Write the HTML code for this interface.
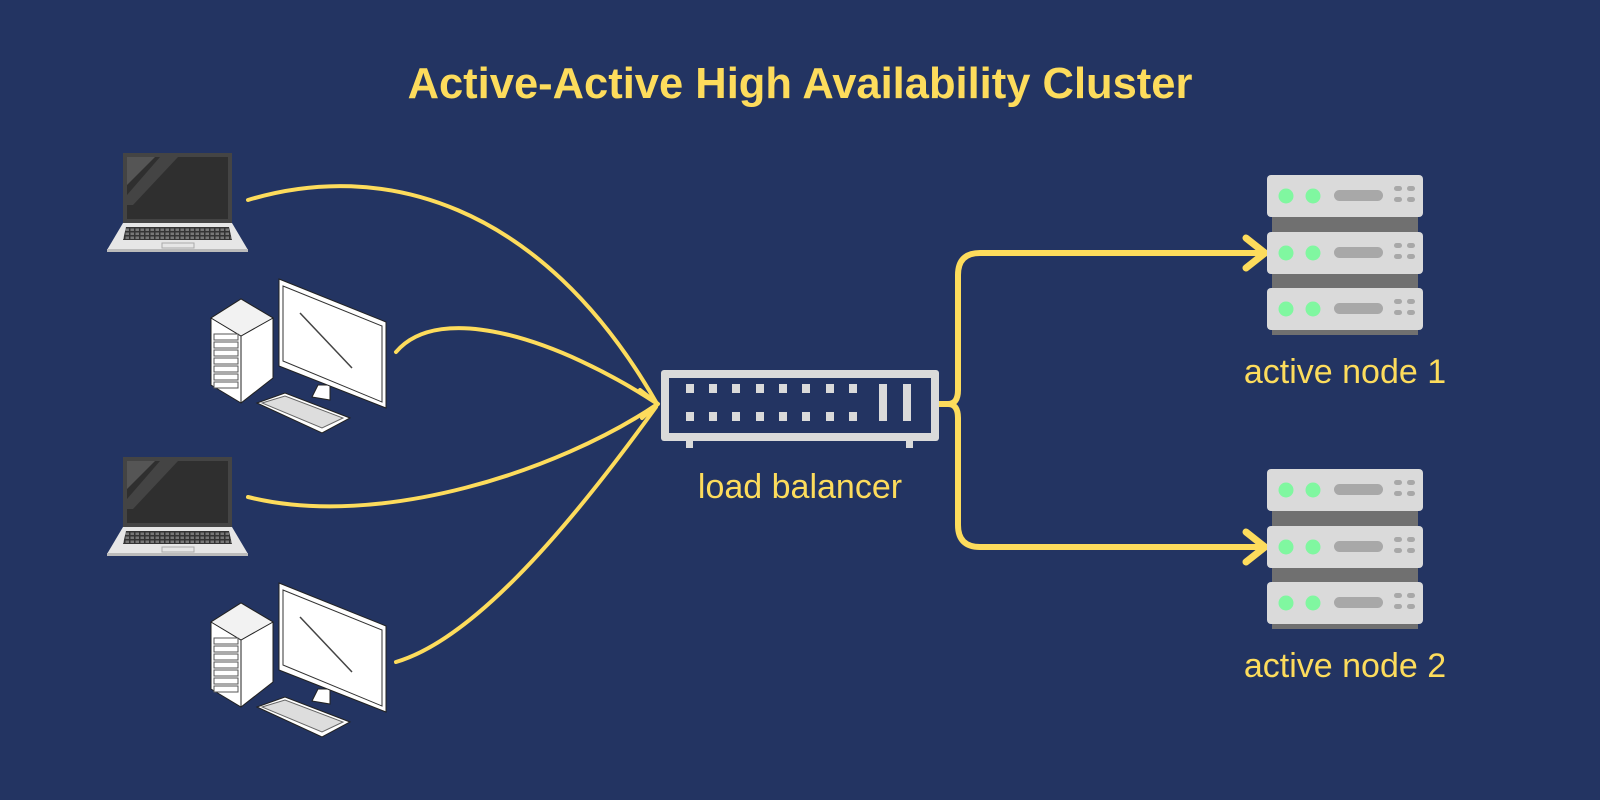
<!DOCTYPE html>
<html><head><meta charset="utf-8"><style>
html,body{margin:0;padding:0;background:#233462;}
svg{display:block}
text{font-family:"Liberation Sans",sans-serif;fill:#fddc5c}
</style></head><body>
<svg width="1600" height="800" viewBox="0 0 1600 800" xmlns="http://www.w3.org/2000/svg">
<defs>
<pattern id="keys" width="5" height="4" patternUnits="userSpaceOnUse">
  <rect width="5" height="4" fill="#333"/><rect x="0.5" y="0.5" width="3.5" height="2.5" fill="#777"/>
</pattern>
<g id="laptop">
  <rect x="123" y="153" width="109" height="70" fill="#444"/>
  <rect x="127" y="157" width="101" height="62" fill="#2f2f2f"/>
  <polygon points="127,157 155,157 127,185" fill="#555"/>
  <polygon points="160,157 178,157 133,205 127,205 127,195" fill="#444"/>
  <polygon points="123,223 232,223 248,250 107,250" fill="#e6e6e6"/>
  <rect x="107" y="249" width="141" height="3" fill="#bbb"/>
  <polygon points="126,227 229,227 232,240 123,240" fill="url(#keys)"/>
  <rect x="162" y="243" width="32" height="5" fill="none" stroke="#aaa" stroke-width="1"/>
</g>
<g id="desktop" fill="#fff" stroke="#222" stroke-width="1">
  <polygon points="211,318 241,299 273,318 273,378 241,403 211,385"/>
  <polygon points="211,318 241,299 273,318 241,336" fill="#f2f2f2"/>
  <line x1="241" y1="336" x2="241" y2="403"/>
  <g stroke="#555">
   <rect x="214" y="334" width="24" height="6"/><rect x="214" y="342" width="24" height="6"/>
   <rect x="214" y="350" width="24" height="6"/><rect x="214" y="358" width="24" height="6"/>
   <rect x="214" y="366" width="24" height="6"/><rect x="214" y="374" width="24" height="6"/>
   <rect x="214" y="382" width="24" height="6"/>
  </g>
  <polygon points="318,385 330,385 330,400 312,397"/>
  <polygon points="279,279 386,322 386,408 279,366"/>
  <polygon points="283,286 382,326 382,402 283,361" fill="#fff" stroke="#333"/>
  <line x1="300" y1="313" x2="352" y2="368" stroke="#444" stroke-width="1.5"/>
  <polygon points="257,403 285,393 350,418 322,433"/>
  <polygon points="262,403 285,396 343,418 322,428" fill="#ddd" stroke="#666"/>
</g>
<g id="unit">
  <rect x="0" y="0" width="156" height="42" rx="4" fill="#dadada"/>
  <circle cx="19" cy="21" r="7.5" fill="#80f7a0"/>
  <circle cx="46" cy="21" r="7.5" fill="#80f7a0"/>
  <rect x="67" y="15" width="49" height="11" rx="5.5" fill="#a8a8a8"/>
  <rect x="127" y="11" width="8" height="5" rx="2.5" fill="#a8a8a8"/>
  <rect x="140" y="11" width="8" height="5" rx="2.5" fill="#a8a8a8"/>
  <rect x="127" y="22" width="8" height="5" rx="2.5" fill="#a8a8a8"/>
  <rect x="140" y="22" width="8" height="5" rx="2.5" fill="#a8a8a8"/>
</g>
<g id="server">
  <rect x="5" y="40" width="146" height="120" fill="#707070"/>
  <use href="#unit" y="0"/>
  <use href="#unit" y="57"/>
  <use href="#unit" y="113"/>
</g>
</defs>

<text x="800" y="98" text-anchor="middle" font-size="43.5" font-weight="bold">Active-Active High Availability Cluster</text>

<use href="#laptop"/>
<use href="#desktop"/>
<use href="#laptop" y="304"/>
<use href="#desktop" y="304"/>

<g fill="none" stroke="#fddc5c" stroke-width="4" stroke-linecap="round">
  <path d="M248,200 C380,160 540,200 656,402"/>
  <path d="M396,352 C440,300 560,340 656,403"/>
  <path d="M248,497 C380,530 560,470 656,405"/>
  <path d="M396,662 C470,640 560,540 656,407"/>
  <path d="M640,390 L658,404 L642,418" stroke-linejoin="round"/>
  <path d="M939,404 L948,404 Q958,404 958,390 L958,275 Q958,253 980,253 L1264,253" stroke-width="6"/>
  <path d="M939,404 L948,404 Q958,404 958,418 L958,525 Q958,547 980,547 L1264,547" stroke-width="6"/>
  <path d="M1246,238 L1265,253 L1246,268" stroke-width="7" stroke-linejoin="round"/>
  <path d="M1246,532 L1265,547 L1246,562" stroke-width="7" stroke-linejoin="round"/>
</g>

<rect x="661" y="370" width="278" height="71" rx="3" fill="#dadada"/>
<rect x="669" y="378" width="262" height="55" fill="#233462"/>
<rect x="686" y="441" width="7" height="7" fill="#dadada"/>
<rect x="906" y="441" width="7" height="7" fill="#dadada"/>
<g fill="#dadada">
  <rect x="686" y="384" width="8" height="9"/><rect x="709" y="384" width="8" height="9"/>
  <rect x="732" y="384" width="8" height="9"/><rect x="756" y="384" width="8" height="9"/>
  <rect x="779" y="384" width="8" height="9"/><rect x="802" y="384" width="8" height="9"/>
  <rect x="826" y="384" width="8" height="9"/><rect x="849" y="384" width="8" height="9"/>
  <rect x="686" y="412" width="8" height="9"/><rect x="709" y="412" width="8" height="9"/>
  <rect x="732" y="412" width="8" height="9"/><rect x="756" y="412" width="8" height="9"/>
  <rect x="779" y="412" width="8" height="9"/><rect x="802" y="412" width="8" height="9"/>
  <rect x="826" y="412" width="8" height="9"/><rect x="849" y="412" width="8" height="9"/>
  <rect x="879" y="384" width="8" height="37"/><rect x="903" y="384" width="8" height="37"/>
</g>
<text x="800" y="498" text-anchor="middle" font-size="34">load balancer</text>

<use href="#server" x="1267" y="175"/>
<use href="#server" x="1267" y="469"/>
<text x="1345" y="383" text-anchor="middle" font-size="34">active node 1</text>
<text x="1345" y="677" text-anchor="middle" font-size="34">active node 2</text>
</svg>
</body></html>
